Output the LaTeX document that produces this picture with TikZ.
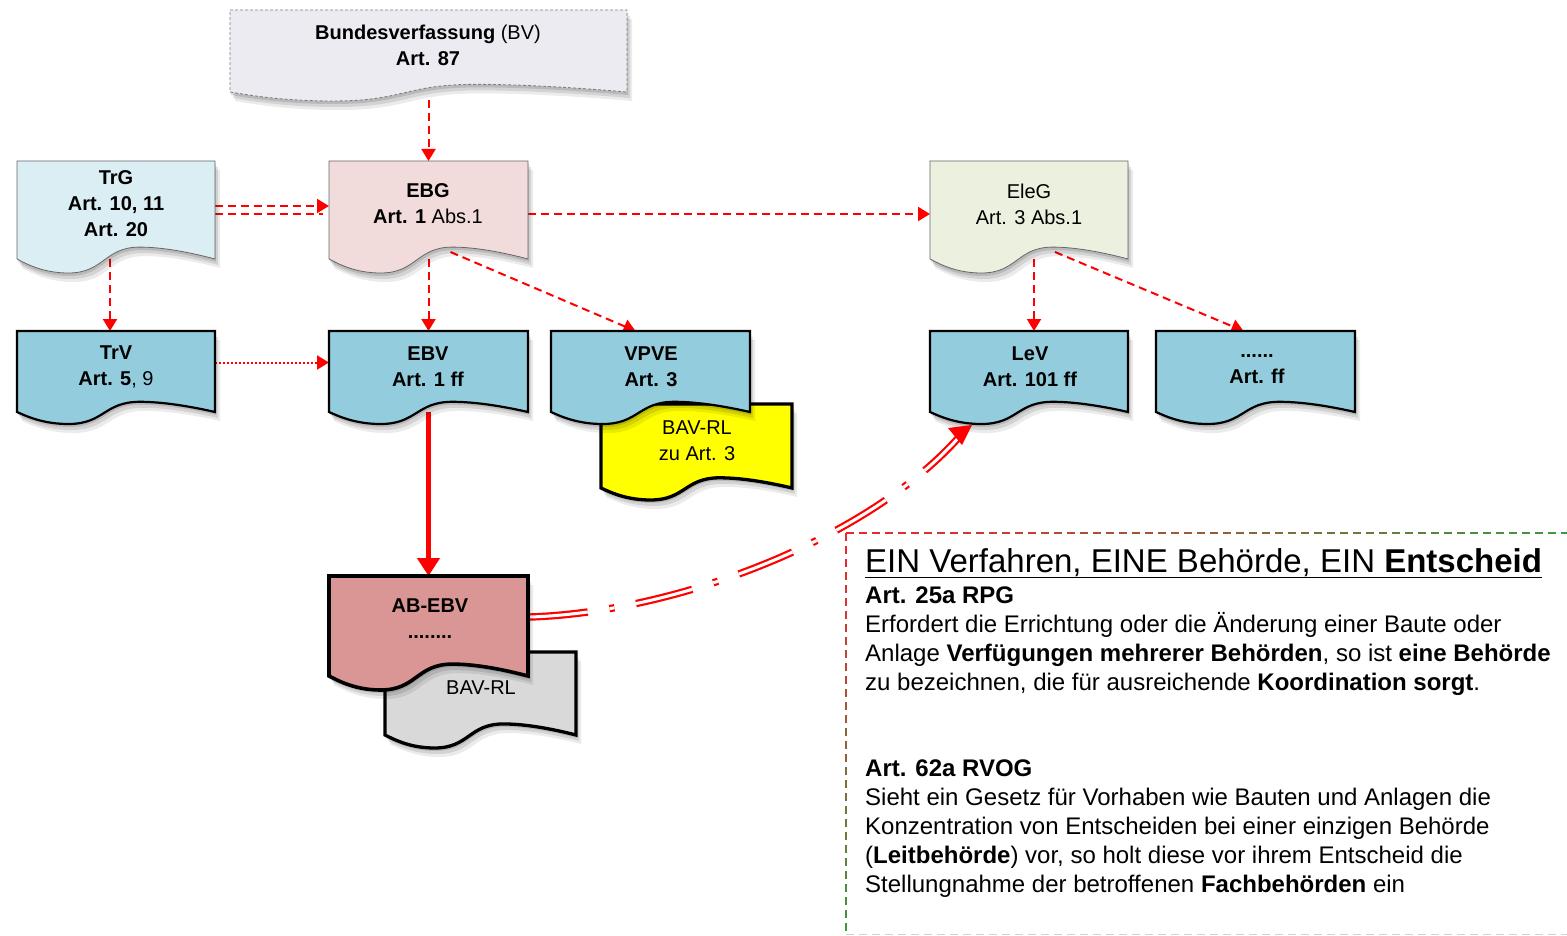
\documentclass[tikz,border=0pt]{standalone}
\usepackage{fontspec}
\setmainfont{Liberation Sans}
\usetikzlibrary{arrows.meta,calc}

\definecolor{bvfill}{HTML}{EDEBF2}
\definecolor{trgfill}{HTML}{DBEEF4}
\definecolor{ebgfill}{HTML}{F2DCDB}
\definecolor{elegfill}{HTML}{EBF1DE}
\definecolor{ordfill}{HTML}{93CDDD}
\definecolor{abfill}{HTML}{D99694}
\definecolor{rlfill}{HTML}{D9D9D9}
\definecolor{rlyellow}{HTML}{FFFF00}
\definecolor{linkred}{HTML}{FF0000}
\definecolor{framered}{HTML}{E8282C}
\definecolor{framegreen}{HTML}{3A9A3E}

\pgfdeclarelayer{links}
\pgfsetlayers{links,main}

% document shape: flat top, straight sides, wavy bottom edge
% #1 style, #2 x1, #3 y1, #4 x2, #5 y of the side ends, #6 wave amplitude
\newcommand\docshape[6]{%
  \pgfmathsetmacro\dsw{#4-#2}%
  \pgfmathsetmacro\dsxk{#2+0.62*\dsw}%
  \pgfmathsetmacro\dsxd{#2+0.26*\dsw}%
  \pgfmathsetmacro\dsyk{#5-0.85*#6}%
  \pgfmathsetmacro\dsyd{#5+#6}%
  \pgfmathsetmacro\dsca{#4-0.12*\dsw}%
  \pgfmathsetmacro\dscay{#5-0.45*#6}%
  \pgfmathsetmacro\dscb{\dsxk+0.12*\dsw}%
  \pgfmathsetmacro\dscc{\dsxk-0.18*\dsw}%
  \pgfmathsetmacro\dscd{\dsxd+0.18*\dsw}%
  \pgfmathsetmacro\dsce{\dsxd-0.12*\dsw}%
  \pgfmathsetmacro\dscf{#2+0.06*\dsw}%
  \pgfmathsetmacro\dscfy{#5+0.45*#6}%
  \path[#1] (#2,#3) -- (#4,#3) -- (#4,#5)
    .. controls (\dsca,\dscay) and (\dscb,\dsyk) .. (\dsxk,\dsyk)
    .. controls (\dscc,\dsyk) and (\dscd,\dsyd) .. (\dsxd,\dsyd)
    .. controls (\dsce,\dsyd) and (\dscf,\dscfy) .. (#2,#5) -- cycle;
}

% shadowed document box with an anchor node covering its body
% #1 name, #2 style, #3 x1, #4 y1, #5 x2, #6 side end y, #7 amplitude
\newcommand\docbox[7]{%
  \docshape{fill=black,opacity=0.12,xshift=1pt,yshift=-3pt}{#3}{#4}{#5}{#6}{#7}%
  \docshape{fill=black,opacity=0.10,xshift=3pt,yshift=-6pt}{#3}{#4}{#5}{#6}{#7}%
  \docshape{fill=black,opacity=0.08,xshift=5pt,yshift=-9pt}{#3}{#4}{#5}{#6}{#7}%
  \docshape{#2}{#3}{#4}{#5}{#6}{#7}%
  \pgfmathsetmacro\dbw{#5-#3}%
  \pgfmathsetmacro\dbh{#6-#4}%
  \pgfmathsetmacro\dbx{(#3+#5)/2}%
  \pgfmathsetmacro\dby{(#4+#6)/2}%
  \node[inner sep=0pt, outer sep=0pt, minimum width=\dbw pt, minimum height=\dbh pt] (#1) at (\dbx,\dby) {};
}

\tikzset{
  thinbox/.style={draw=gray!80!black, line width=0.8pt},
  ordbox/.style={fill=ordfill, draw=black, line width=2.2pt},
  heavybox/.style={draw=black, line width=3.3pt},
  lbl/.style={align=center, inner sep=0pt, font=\fontsize{20}{26}\selectfont},
  para/.style={align=left, inner sep=0pt, anchor=north west, font=\fontsize{24}{29}\selectfont},
  link/.style={draw=linkred, line width=2pt, dash pattern=on 8pt off 5pt,
    -{Triangle[length=12pt,width=14pt]}},
  weak/.style={draw=linkred, line width=2pt, dash pattern=on 2pt off 2pt,
    -{Triangle[length=12pt,width=14pt]}},
  strong/.style={draw=linkred, line width=5pt,
    -{Triangle[length=18pt,width=22pt]}},
  coord/.style={draw=linkred, line width=2.2pt, double=white, double distance=3pt,
    dash pattern=on 58pt off 22pt on 5pt off 22pt},
}

\begin{document}
\begin{tikzpicture}[x=1pt,y=-1pt]
\useasboundingbox (0,0) rectangle (1567,936);

% legal acts
\docbox{bv}{fill=bvfill, draw=gray, dash pattern=on 3pt off 2pt, line width=0.9pt}{230}{10}{627}{92}{9}
\docbox{trg}{fill=trgfill, thinbox}{17}{161}{215}{259}{14}
\docbox{ebg}{fill=ebgfill, thinbox}{329}{161}{528}{259}{14}
\docbox{eleg}{fill=elegfill, thinbox}{930}{161}{1128}{259}{14}

% ordinances
\docbox{trv}{ordbox}{17}{331}{215}{412}{12}
\docbox{ebv}{ordbox}{329}{331}{528}{412}{12}
\docbox{bavrla}{fill=rlyellow, heavybox}{601}{404}{792}{488}{12}
\docbox{vpve}{ordbox}{551}{331}{750}{412}{12}
\docbox{lev}{ordbox}{930}{331}{1128}{412}{12}
\docbox{more}{ordbox}{1156}{331}{1355}{412}{12}

% implementing provisions
\docbox{bavrlb}{fill=rlfill, heavybox}{385}{652}{576}{735}{13}
\docbox{abebv}{fill=abfill, heavybox, line width=3.6pt}{329}{576}{528}{676}{14}

% labels
\node[lbl] (bvt) at (428,45) {\textbf{Bundesverfassung} (BV)\\\textbf{Art. 87}};
\node[lbl] (trgt) at (116,204) {\textbf{TrG}\\\textbf{Art. 10, 11}\\\textbf{Art. 20}};
\node[lbl] (ebgt) at (428,204) {\textbf{EBG}\\\textbf{Art. 1} Abs.1};
\node[lbl] (elegt) at (1029,204) {EleG\\Art. 3 Abs.1};
\node[lbl] (trvt) at (116,367) {\textbf{TrV}\\\textbf{Art. 5}, 9};
\node[lbl] (ebvt) at (428,367) {\textbf{EBV}\\\textbf{Art. 1 ff}};
\node[lbl] (vpvet) at (651,367) {\textbf{VPVE}\\\textbf{Art. 3}};
\node[lbl] (levt) at (1030,367) {\textbf{LeV}\\\textbf{Art. 101 ff}};
\node[lbl] (moret) at (1257,369) {\textbf{......}\\\textbf{Art. ff}};
\node[lbl] (bavrlat) at (697,441) {BAV-RL\\zu Art. 3};
\node[lbl] (abebvt) at (430,619) {\textbf{AB-EBV}\\\textbf{........}};
\node[lbl] (bavrlbt) at (481,688) {BAV-RL};

% connectors
\begin{pgfonlayer}{links}
\draw[link] ([yshift=-8pt]bv.south) -- (ebg.north);
\draw[link] ([yshift=4pt]trg.east) -- ([yshift=4pt]ebg.west);
\draw[link, -, shorten >=6pt] ([yshift=-4pt]trg.east) -- ([yshift=-4pt]ebg.west);
\draw[link] ([yshift=-4pt]ebg.east) -- ([yshift=-4pt]eleg.west);
\draw[link] ([xshift=-6pt]trg.south) -- ([xshift=-6pt]trv.north);
\draw[link] (ebg.south) -- (ebv.north);
\draw[link] ($(ebg.south)+(22,-7)$) -- ($(vpve.north)+(-15,0)$);
\draw[link] ([xshift=5pt]eleg.south) -- ([xshift=5pt]lev.north);
\draw[link] ($(eleg.south)+(26,-7)$) -- ($(more.north)+(-12,0)$);
\draw[weak] ([yshift=9pt]trv.east) -- ([yshift=9pt]ebv.west);
\draw[strong] (ebv.south) -- (abebv.north);
\draw[coord] ($(abebv.east)+(2,-9)$)
  .. controls ($(abebv.east)+(152,-14)$) and ($(lev.south)+(-159,126)$)
  .. ($(lev.south)+(-69,24)$);
\end{pgfonlayer}
\fill[linkred] ($(lev.south)+(-81,16)$) -- ($(lev.south)+(-57,13)$)
  -- ($(lev.south)+(-67,33)$) -- cycle;

% frame of the text panel, shading from red to green
\foreach \i in {0,...,18}{
  \pgfmathsetmacro\mix{100-\i*100/18}
  \draw[framered!\mix!framegreen, line width=1.5pt, dash pattern=on 8pt off 5pt]
    ({846+\i*39},533) -- ({846+(\i+1)*39},533);
}
\foreach \i in {0,...,10}{
  \pgfmathsetmacro\mix{100-\i*100/10}
  \draw[framered!\mix!framegreen, line width=1.5pt, dash pattern=on 8pt off 5pt]
    (846,{533+\i*39}) -- (846,{533+(\i+1)*39});
}
\draw[gray!35, line width=0.8pt, dash pattern=on 8pt off 5pt] (846,934) -- (1567,934);

% text panel
\node[anchor=base west, inner sep=0pt, font=\fontsize{33}{38}\selectfont] (title) at (865,572)
  {\underline{EIN Verfahren, EINE Behörde, EIN \textbf{Entscheid}}};
\node[para] (rpg) at (865,587) {\textbf{Art. 25a RPG}\\
  Erfordert die Errichtung oder die Änderung einer Baute oder\\
  Anlage \textbf{Verfügungen mehrerer Behörden}, so ist \textbf{eine Behörde}\\
  zu bezeichnen, die für ausreichende \textbf{Koordination sorgt}.};
\node[para] (rvog) at (865,760) {\textbf{Art. 62a RVOG}\\
  Sieht ein Gesetz für Vorhaben wie Bauten und Anlagen die\\
  Konzentration von Entscheiden bei einer einzigen Behörde\\
  (\textbf{Leitbehörde}) vor, so holt diese vor ihrem Entscheid die\\
  Stellungnahme der betroffenen \textbf{Fachbehörden} ein};
\end{tikzpicture}
\end{document}
